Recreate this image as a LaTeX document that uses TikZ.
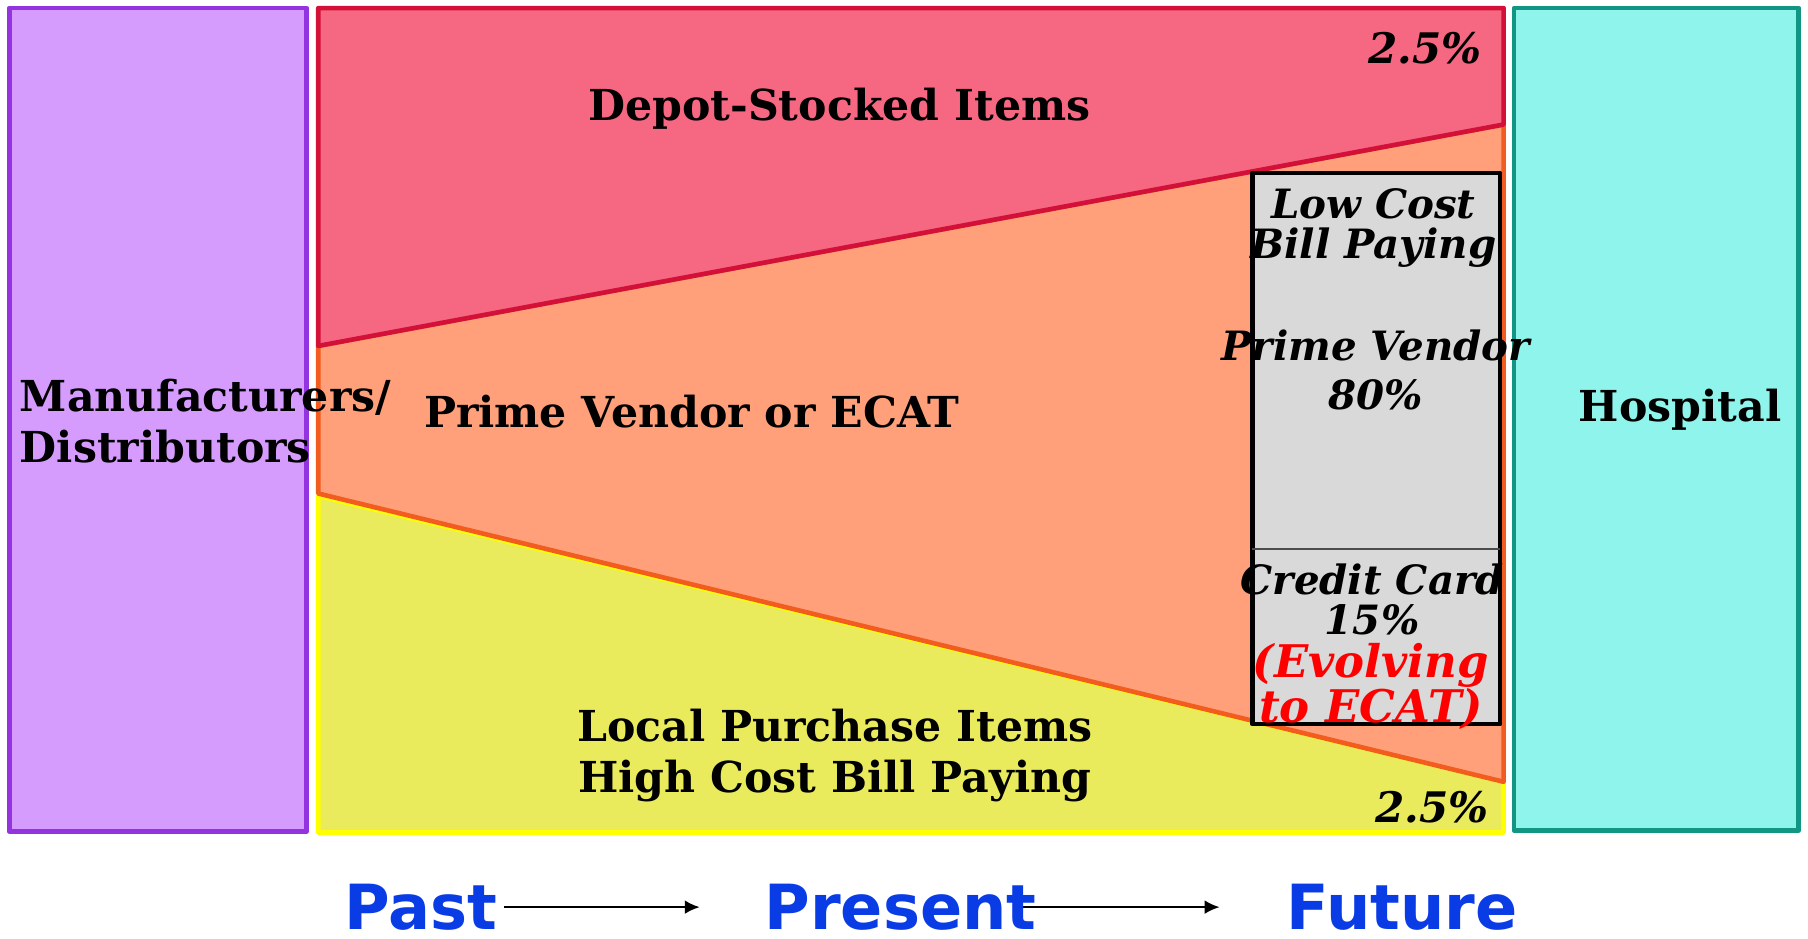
\documentclass[tikz,border=0pt]{standalone}
\usepackage{fontspec}
\setmainfont{DejaVu Serif}
\setsansfont{DejaVu Sans}
\usetikzlibrary{arrows.meta}
\definecolor{manufill}{RGB}{213,156,254}
\definecolor{manuline}{RGB}{147,52,224}
\definecolor{hospfill}{RGB}{143,244,236}
\definecolor{hospline}{RGB}{16,150,130}
\definecolor{depotfill}{RGB}{246,103,129}
\definecolor{depotline}{RGB}{210,16,56}
\definecolor{primefill}{RGB}{255,160,122}
\definecolor{primeline}{RGB}{242,92,30}
\definecolor{localfill}{RGB}{233,235,92}
\definecolor{localline}{RGB}{255,255,0}
\definecolor{cardfill}{RGB}{217,217,217}
\definecolor{timeblue}{RGB}{10,60,230}

\begin{document}
\begin{tikzpicture}[x=1pt,y=-1pt]
        \tikzset{label text/.style={font=\fontsize{37}{44}\selectfont\bfseries,align=center,inner sep=0pt},
            pct text/.style={label text,font=\fontsize{35}{35}\selectfont\bfseries\itshape},
            time text/.style={font=\fontsize{54}{60}\selectfont\sffamily\bfseries,text=timeblue,inner sep=0pt},
            region/.style={line width=4pt,line join=round},
            time arrow/.style={draw,line width=2pt,-{Latex[length=13pt,width=12pt]}}}
        \useasboundingbox (0,0) rectangle (1568,814);
        % end boxes
        \draw[region,fill=manufill,draw=manuline] (8,7) rectangle (266,721);
        \draw[region,fill=hospfill,draw=hospline] (1313,7) rectangle (1560,720);
        % bands
        \draw[region,fill=localfill,draw=localline] (276,430) -- (1304,678) -- (1304,722) -- (276,722) -- cycle;
        \draw[region,fill=primefill,draw=primeline] (276,300) -- (1304,108) -- (1304,678) -- (276,428) -- cycle;
        \draw[region,fill=depotfill,draw=depotline] (276,7) -- (1304,7) -- (1304,108) -- (276,300) -- cycle;
        % future split
        \draw[region,fill=cardfill,draw=black] (1086,150) rectangle (1301,628);
        \draw[line width=1.5pt,black!70] (1086,476) -- (1301,476);
        % texts
        \node[label text] (depot) at (728,94) {Depot-Stocked Items};
        \node[label text] (prime) at (600,357) {Prime Vendor or ECAT};
        \node[label text] (local) at (724,655) {Local Purchase Items\\High Cost Bill Paying};
        \node[label text,anchor=west,align=left] (manu) at (17,365) {Manufacturers/\\Distributors};
        \node[label text] (hospital) at (1457,355) {Hospital};
        \node[pct text,font=\fontsize{36.5}{36}\selectfont\bfseries\itshape] (depotpct) [anchor=east] at (1285,42) {2.5\%};
        \node[pct text,font=\fontsize{36.5}{36}\selectfont\bfseries\itshape] (localpct) [anchor=east] at (1291,700) {2.5\%};
        \node[pct text] (lowcost) at (1191,198) {Low Cost\\Bill Paying};
        \node[pct text,font=\fontsize{35}{42}\selectfont\bfseries\itshape] (vendorpct) at (1193,321) {Prime Vendor\\80\%};
        \node[pct text] (cardpct) at (1190,520) {Credit Card\\15\%};
        \node[pct text,font=\fontsize{39}{35}\selectfont\bfseries\itshape,text=red] (evolving) at (1189,595) {(Evolving\\to ECAT)};
        % time line
        \node[time text,anchor=base] (past) at (365,806) {Past};
        \node[time text,anchor=base] (present) at (781,806) {Present};
        \node[time text,anchor=base] (future) at (1216,806) {Future};
        \draw[time arrow,shorten <=6pt,shorten >=56pt] (past.east) -- (present.west);
        \draw[time arrow,shorten <=-12pt,shorten >=58pt] (present.east) -- (future.west);
\end{tikzpicture}
\end{document}
